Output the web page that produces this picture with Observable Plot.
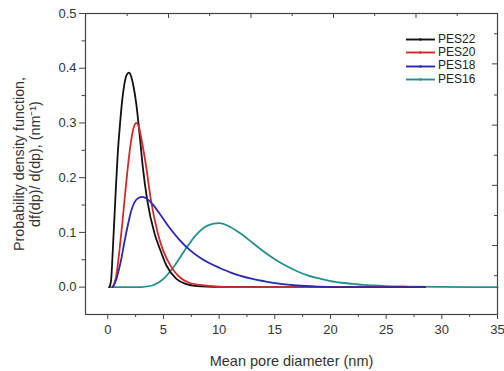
<!DOCTYPE html>
<html>
<head>
<meta charset="utf-8">
<script src="https://cdn.jsdelivr.net/npm/d3@7"></script>
<script src="https://cdn.jsdelivr.net/npm/@observablehq/plot@0.6"></script>
<style>
  body { margin: 0; background: #fff; font-family: "Liberation Sans", Arial, sans-serif; }
  #wrap { position: relative; width: 504px; height: 371px; }
  #legend { position: absolute; left: 405px; top: 32.6px; font-size: 12px; color: #222; }
  #legend .row { display: flex; align-items: center; height: 13.4px; line-height: 13.4px; }
  #legend svg { margin-right: 2px; }
</style>
</head>
<body>
<div id="wrap"></div>
<script>
// ---- data ----
const seriesNames = ["PES22", "PES20", "PES18", "PES16"];
const seriesColors = ["#111111", "#d6282c", "#2b27b4", "#23908b"];
const drawOrder = ["PES16", "PES22", "PES20", "PES18"];

const pes22X = [0.15, 0.3, 0.45, 0.6, 0.75, 0.9, 1.1, 1.3, 1.5, 1.7, 1.9, 2.1, 2.3, 2.56, 2.86, 3.15, 3.55, 4.2, 4.66, 5.26, 6.16, 7, 8, 10, 14, 28.5];
const pes22Y = [0, 0.013, 0.067, 0.128, 0.19, 0.245, 0.298, 0.342, 0.372, 0.388, 0.392, 0.385, 0.368, 0.335, 0.279, 0.219, 0.158, 0.098, 0.071, 0.04, 0.015, 0.006, 0.002, 0.0005, 0, 0];

const pes20X = [0.45, 0.75, 1.05, 1.3, 1.5, 1.8, 2.1, 2.35, 2.56, 2.8, 3.1, 3.46, 3.85, 4.5, 4.95, 5.7, 6.46, 7.3, 8.3, 10, 12, 28.5];
const pes20Y = [0, 0.019, 0.067, 0.115, 0.158, 0.219, 0.268, 0.293, 0.3, 0.292, 0.262, 0.219, 0.162, 0.098, 0.068, 0.037, 0.018, 0.008, 0.004, 0.001, 0, 0];

const pes18X = [0.45, 0.75, 1.0, 1.2, 1.5, 1.8, 2.1, 2.4, 2.75, 3.1, 3.5, 4.0, 4.6, 5.5, 6.46, 7.3, 8.26, 9.1, 10.06, 11, 11.86, 13, 14, 15.5, 17, 19, 21, 28.5];
const pes18Y = [0, 0.013, 0.032, 0.05, 0.083, 0.113, 0.139, 0.155, 0.163, 0.165, 0.162, 0.152, 0.136, 0.11, 0.086, 0.069, 0.054, 0.044, 0.035, 0.027, 0.021, 0.015, 0.011, 0.006, 0.003, 0.001, 0, 0];

const pes16X = [0.1, 2, 3, 4, 5, 6, 7, 8, 9, 10, 11, 12, 13, 14, 15, 16, 17, 18, 19, 20, 21, 22, 23, 24, 25, 27, 30, 35];
const pes16Y = [0, 0, 0.0002, 0.003, 0.015, 0.039, 0.07, 0.097, 0.113, 0.117, 0.11, 0.097, 0.081, 0.065, 0.051, 0.039, 0.029, 0.021, 0.016, 0.011, 0.008, 0.006, 0.004, 0.003, 0.002, 0.001, 0.0003, 0];

const xTicks = [0, 5, 10, 15, 20, 25, 30, 35];
const xMinorTicks = [2.5, 7.5, 12.5, 17.5, 22.5, 27.5, 32.5];
const yTicks = [0, 0.1, 0.2, 0.3, 0.4, 0.5];
const yMinorTicks = [0.05, 0.15, 0.25, 0.35, 0.45];
const topMajorTicks = [5.45, 12.86, 20.27, 27.68];
const topMinorTicks = [1.74, 9.15, 16.56, 23.97, 31.38];
const rightMajorTicks = [0.408, 0.296, 0.186, 0.076];
const rightMinorTicks = [0.463, 0.351, 0.241, 0.131, 0.021];

const xLabel = "Mean pore diameter (nm)";
const yLabel1 = "Probability density function,";
const yLabel2 = "df(dp)/ d(dp), (nm\u207B\u00B9)";

// ---- build table ----
const seriesData = {
  PES22: [pes22X, pes22Y],
  PES20: [pes20X, pes20Y],
  PES18: [pes18X, pes18Y],
  PES16: [pes16X, pes16Y]
};
const rows = [];
for (const name of drawOrder) {
  const [xs, ys] = seriesData[name];
  xs.forEach((x, i) => rows.push({series: name, x, y: ys[i]}));
}

const W = 504, H = 371, ML = 85, MR = 7, MT = 13, MB = 57;
const frameW = W - ML - MR, frameH = H - MT - MB;
const blank = () => "";
const axisColor = "#444";

const chart = Plot.plot({
  width: W,
  height: H,
  marginLeft: ML,
  marginRight: MR,
  marginTop: MT,
  marginBottom: MB,
  style: {fontFamily: "'Liberation Sans', Arial, sans-serif", fontSize: "13px", color: "#333", background: "white", overflow: "visible"},
  x: {domain: [-2, 35]},
  y: {domain: [-0.05, 0.5]},
  color: {domain: seriesNames, range: seriesColors},
  marks: [
    Plot.axisX(xTicks, {tickSize: 5, tickPadding: 5, tickFormat: d3.format("d"), label: null, stroke: axisColor, fontSize: 13}),
    Plot.axisX(xMinorTicks, {tickSize: 3, tickFormat: blank, label: null, stroke: axisColor}),
    Plot.axisY(yTicks, {tickSize: 6, tickPadding: 3, tickFormat: d3.format(".1f"), label: null, stroke: axisColor, fontSize: 13}),
    Plot.axisY(yMinorTicks, {tickSize: 3.5, tickFormat: blank, label: null, stroke: axisColor}),
    // inward ticks of the top and right axes
    Plot.tickX(topMajorTicks, {x: d => d, insetBottom: frameH - 5, stroke: axisColor}),
    Plot.tickX(topMinorTicks, {x: d => d, insetBottom: frameH - 3, stroke: axisColor}),
    Plot.tickY(rightMajorTicks, {y: d => d, insetLeft: frameW - 5, stroke: axisColor}),
    Plot.tickY(rightMinorTicks, {y: d => d, insetLeft: frameW - 3, stroke: axisColor}),
    Plot.line(rows, {x: "x", y: "y", z: "series", stroke: "series", strokeWidth: 1.8, curve: "monotone-x"}),
    Plot.frame({stroke: axisColor, strokeWidth: 1.2}),
    Plot.text([xLabel], {frameAnchor: "bottom", dy: 47, lineAnchor: "middle", textAnchor: "middle", fontSize: 14.5, fill: "#333", text: d => d}),
    Plot.text([yLabel1], {frameAnchor: "left", dx: -66, rotate: -90, textAnchor: "middle", lineAnchor: "middle", fontSize: 14.3, fill: "#333", text: d => d}),
    Plot.text([yLabel2], {frameAnchor: "left", dx: -50, rotate: -90, textAnchor: "middle", lineAnchor: "middle", fontSize: 14.3, fill: "#333", text: d => d})
  ]
});

const wrap = document.getElementById("wrap");
wrap.appendChild(chart);

// legend
const legend = document.createElement("div");
legend.id = "legend";
seriesNames.forEach((name, i) => {
  const row = document.createElement("div");
  row.className = "row";
  row.innerHTML = `<svg width="31" height="13"><line x1="1" x2="30" y1="6.5" y2="6.5" stroke="${seriesColors[i]}" stroke-width="1.9"/><circle cx="15.5" cy="6.5" r="1.2" fill="${seriesColors[i]}"/></svg><span>${name}</span>`;
  legend.appendChild(row);
});
wrap.appendChild(legend);
</script>
</body>
</html>
